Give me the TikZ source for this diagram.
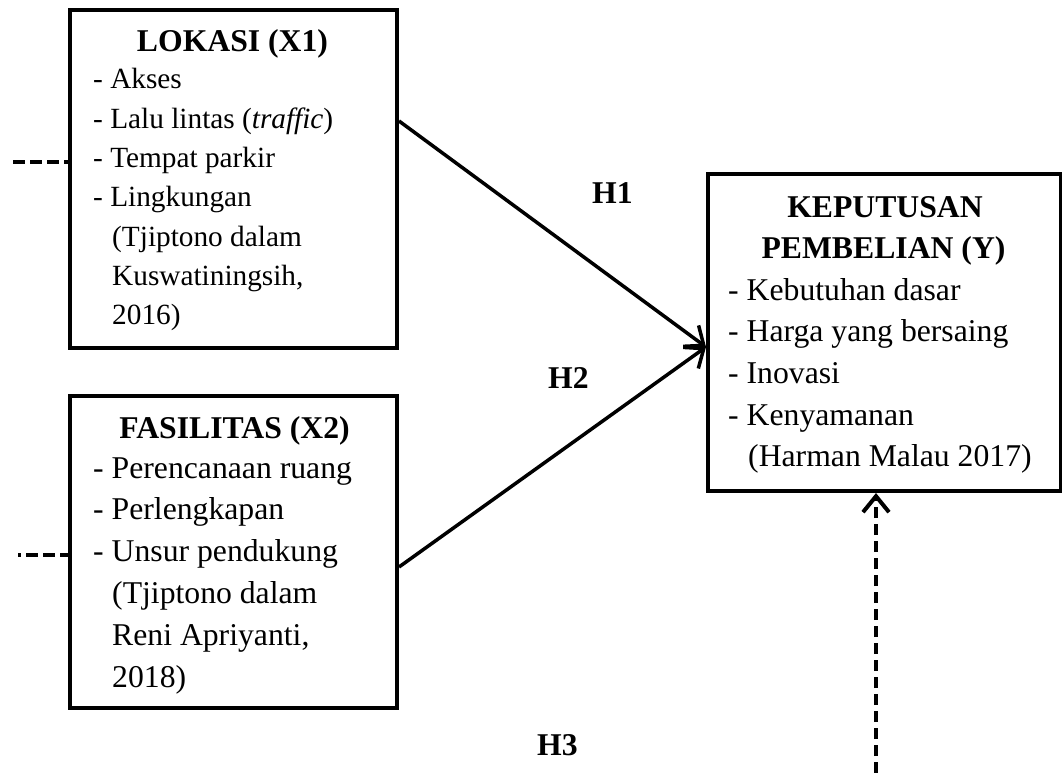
\documentclass[tikz,border=0pt]{standalone}
\usepackage{fontspec}
\setmainfont{Liberation Serif}
\usetikzlibrary{arrows.meta}
\newcommand\fsa{\fontsize{29.3}{39}\selectfont}
\newcommand\fsb{\fontsize{31.7}{41.5}\selectfont}
\tikzset{
  boxnode/.style={draw, line width=4pt, inner sep=0pt},
  ttl/.style={anchor=base, inner sep=0pt, font=\fsb\bfseries},
  itema/.style={anchor=base west, inner sep=0pt, font=\fsa},
  itemb/.style={anchor=base west, inner sep=0pt, font=\fsb},
  hlab/.style={anchor=base west, inner sep=0pt, font=\fsb\bfseries},
  conn/.style={line width=3.5pt, -{Straight Barb[length=16pt,width=26pt]}},
  dashconn/.style={line width=4pt, dash pattern=on 11.5pt off 5.5pt},
}
\begin{document}
\begin{tikzpicture}[x=1pt,y=-1pt]
\useasboundingbox (0,0) rectangle (1062,773);
% boxes
\node[boxnode, minimum width=327pt, minimum height=338pt] (lok) at (233.5,179) {};
\node[boxnode, minimum width=327pt, minimum height=312pt] (fas) at (233.5,552) {};
\node[boxnode, minimum width=353pt, minimum height=317pt] (kep) at (884.5,332.5) {};
% box 1 text
\node[ttl] (lokt) at (232.5,52) {LOKASI (X1)};
\node[itema] (l1) at (93,89) {- Akses};
\node[itema] (l2) at (93,128.3) {- Lalu lintas (\textit{traffic})};
\node[itema] (l3) at (93,167.6) {- Tempat parkir};
\node[itema] (l4) at (93,206.9) {- Lingkungan};
\node[itema] (l5) at (112,246.2) {(Tjiptono dalam};
\node[itema] (l6) at (112,285.5) {Kuswatiningsih,};
\node[itema] (l7) at (112,324.8) {2016)};
% box 2 text
\node[ttl] (fast) at (234.5,438) {FASILITAS (X2)};
\node[itemb] (f1) at (93,478) {- Perencanaan ruang};
\node[itemb] (f2) at (93,519.8) {- Perlengkapan};
\node[itemb] (f3) at (93,561.6) {- Unsur pendukung};
\node[itemb] (f4) at (112,603.4) {(Tjiptono dalam};
\node[itemb] (f5) at (112,645.2) {Reni Apriyanti,};
\node[itemb] (f6) at (112,687) {2018)};
% box 3 text
\node[ttl] (kept1) at (885,217) {KEPUTUSAN};
\node[ttl] (kept2) at (883.5,258.6) {PEMBELIAN (Y)};
\node[itemb] (k1) at (728,300.2) {- Kebutuhan dasar};
\node[itemb] (k2) at (728,341.8) {- Harga yang bersaing};
\node[itemb] (k3) at (728,383.4) {- Inovasi};
\node[itemb] (k4) at (728,425) {- Kenyamanan};
\node[itemb] (k5) at (748,466.6) {(Harman Malau 2017)};
% hypothesis labels
\node[hlab] (h1) at (592,203) {H1};
\node[hlab] (h2) at (548,388) {H2};
\node[hlab] (h3) at (537,755) {H3};
% connector points
\coordinate (s1) at (lok.east |- 0,121);
\coordinate (s2) at (lok.east |- 0,567);
\coordinate (t12) at (706,347);
\coordinate (d1) at (13,162);
\coordinate (d2) at (18,555);
\coordinate (d3) at (876,773);
% connectors
\draw[conn] (s1) -- (t12);
\draw[conn] (s2) -- (t12);
\draw[dashconn] (d1) -- (lok.west |- d1);
\draw[dashconn, dash phase=9pt] (d2) -- (fas.west |- d2);
\draw[dashconn, -{Straight Barb[length=16pt,width=26pt]}] (d3) -- (d3 |- 0,493);
\end{tikzpicture}
\end{document}
